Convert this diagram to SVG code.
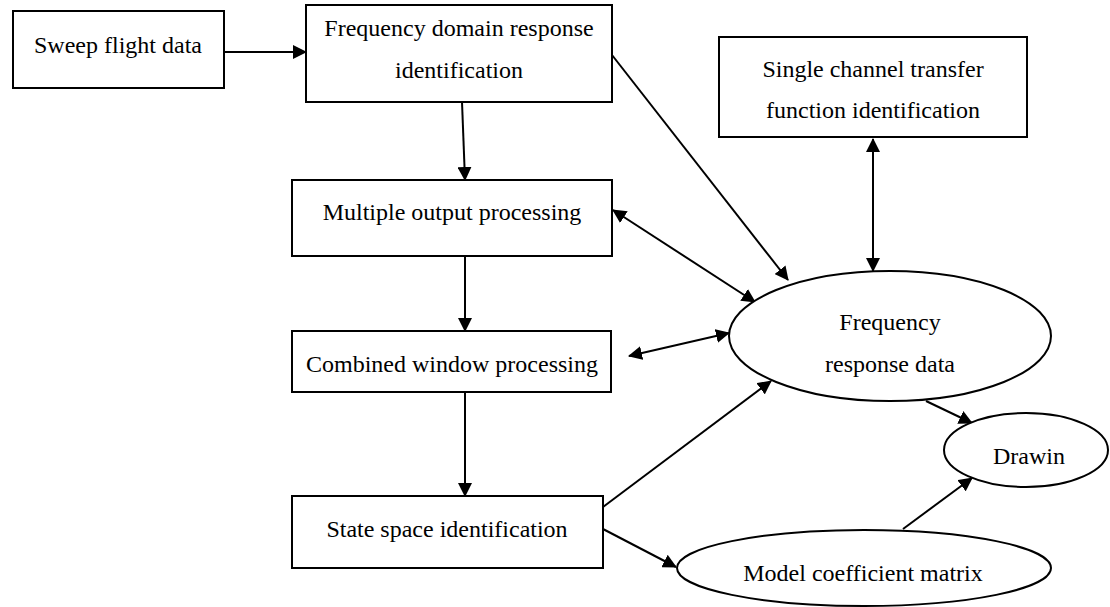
<svg xmlns="http://www.w3.org/2000/svg" width="1110" height="607" viewBox="0 0 1110 607">
<defs>
<style>
.box{fill:#fff;stroke:#000;stroke-width:2}
.t{font-family:"Liberation Serif","Times New Roman",serif;font-size:24px;fill:#000;text-anchor:middle}
.c{stroke:#000;stroke-width:2;fill:none}
.a{marker-end:url(#ah)}
.b{marker-start:url(#ah);marker-end:url(#ah)}
</style>
<marker id="ah" viewBox="0 0 14 14" refX="13" refY="7" markerWidth="14" markerHeight="14" markerUnits="userSpaceOnUse" orient="auto-start-reverse">
<path d="M0,0 L14,7 L0,14 z" fill="#000"/>
</marker>
</defs>
<rect width="1110" height="607" fill="#fff"/>
<g id="connectors">
<line class="c a" x1="224" y1="52" x2="306" y2="52"/>
<line class="c a" x1="462" y1="102" x2="465" y2="180"/>
<line class="c a" x1="465" y1="256" x2="465" y2="331"/>
<line class="c a" x1="465" y1="392" x2="465" y2="496"/>
<line class="c a" x1="612" y1="55" x2="788" y2="280"/>
<line class="c b" x1="613" y1="210" x2="755" y2="302"/>
<line class="c b" x1="629" y1="356" x2="729" y2="333"/>
<line class="c b" x1="873" y1="139" x2="873" y2="271"/>
<line class="c a" x1="603" y1="507" x2="771" y2="381"/>
<line class="c a" x1="603" y1="529" x2="676" y2="567"/>
<line class="c a" x1="926" y1="401" x2="972" y2="423"/>
<line class="c a" x1="903" y1="529" x2="972" y2="478"/>
</g>
<g id="sweep">
<rect class="box" x="13" y="11" width="211" height="77"/>
<text class="t" x="118" y="53">Sweep flight data</text>
</g>
<g id="fdr">
<rect class="box" x="306" y="5" width="306" height="97"/>
<text class="t" x="459" y="36">Frequency domain response</text>
<text class="t" x="459" y="78">identification</text>
</g>
<g id="single">
<rect class="box" x="719" y="37" width="308" height="100"/>
<text class="t" x="873" y="77">Single channel transfer</text>
<text class="t" x="873" y="118">function identification</text>
</g>
<g id="mop">
<rect class="box" x="292" y="180" width="320" height="76"/>
<text class="t" x="452" y="220">Multiple output processing</text>
</g>
<g id="cw">
<rect class="box" x="292" y="331" width="319" height="61"/>
<text class="t" x="452" y="372">Combined window processing</text>
</g>
<g id="ss">
<rect class="box" x="292" y="496" width="311" height="72"/>
<text class="t" x="447" y="537">State space identification</text>
</g>
<g id="frd">
<ellipse class="box" cx="890" cy="336" rx="161" ry="65"/>
<text class="t" x="890" y="330">Frequency</text>
<text class="t" x="890" y="372">response data</text>
</g>
<g id="drawin">
<ellipse class="box" cx="1026" cy="450" rx="82" ry="37"/>
<text class="t" x="1029" y="464">Drawin</text>
</g>
<g id="mcm">
<ellipse class="box" cx="864" cy="568" rx="187" ry="38"/>
<text class="t" x="863" y="581">Model coefficient matrix</text>
</g>
</svg>
